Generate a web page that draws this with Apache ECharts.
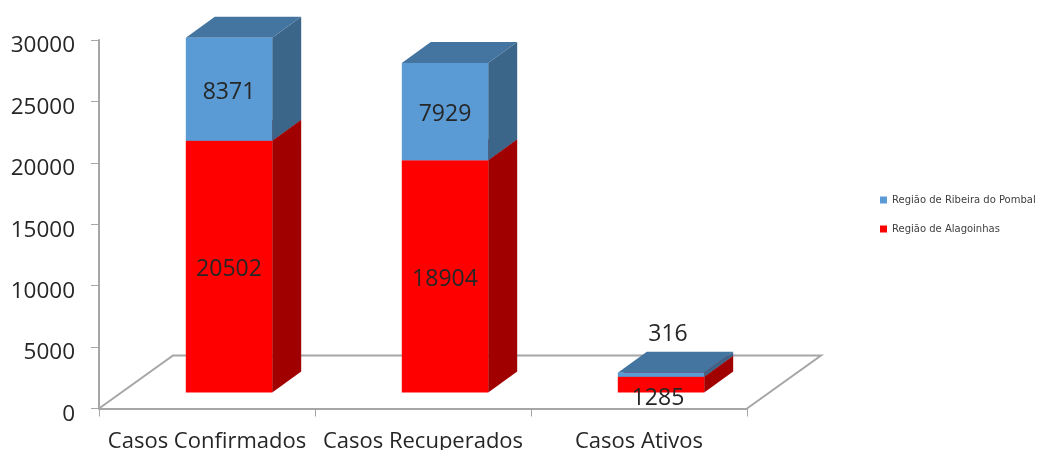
<!DOCTYPE html>
<html>
<head>
<meta charset="utf-8">
<style>
    html, body { margin: 0; padding: 0; background: #fff; }
    #chart { width: 1037px; height: 450px; }
</style>
</head>
<body>
<div id="chart"></div>
<script src="https://cdn.jsdelivr.net/npm/echarts@6/dist/echarts.min.js"></script>
<script>
const categories = ['Casos Confirmados', 'Casos Recuperados', 'Casos Ativos'];
const alagoinhas = [20502, 18904, 1285];
const ribeira = [8371, 7929, 316];
const yTicks = [0, 5000, 10000, 15000, 20000, 25000, 30000];

const fontFamily = '"Open Sans", sans-serif';
const axisColor = '#a6a6a6';
const textColor = '#262626';

// 3d look of the old spreadsheet chart: bars stand back on the floor
const floorDepth = [74, 53];
const barShift = [22, 16];
const barDepth = [29, 21];
const barShare = 0.4;

function floorItem(params) {
    const c = params.coordSys;
    const x0 = c.x;
    const x1 = c.x + c.width;
    const y = c.y + c.height;
    return {
        type: 'polyline',
        shape: {
            points: [
                [x0, y],
                [x0 + floorDepth[0], y - floorDepth[1]],
                [x1 + floorDepth[0], y - floorDepth[1]],
                [x1, y],
            ],
        },
        style: { stroke: axisColor, lineWidth: 2, fill: 'none' },
    };
}

function barItem(colors, labelFor) {
    return function (params, api) {
        const idx = api.value(0);
        const low = api.coord([idx, api.value(1)]);
        const high = api.coord([idx, api.value(2)]);
        const w = api.size([1, 0])[0] * barShare;
        const left = low[0] - w / 2 + barShift[0];
        const right = left + w;
        const bottom = low[1] - barShift[1];
        const top = high[1] - barShift[1];
        const [dx, dy] = barDepth;
        const label = labelFor(api.value(2) - api.value(1), left + w / 2, top, bottom);
        return {
            type: 'group',
            children: [
                {
                    type: 'polygon',
                    shape: { points: [[right, top], [right + dx, top - dy], [right + dx, bottom - dy], [right, bottom]] },
                    style: { fill: colors.side },
                },
                {
                    type: 'polygon',
                    shape: { points: [[left, top], [left + dx, top - dy], [right + dx, top - dy], [right, top]] },
                    style: { fill: colors.top },
                },
                {
                    type: 'rect',
                    shape: { x: left, y: top, width: w, height: bottom - top },
                    style: { fill: colors.front },
                },
                {
                    type: 'text',
                    z2: 10,
                    style: {
                        text: label.text,
                        x: label.x,
                        y: label.y,
                        fill: textColor,
                        font: '23px ' + fontFamily,
                        align: 'center',
                        verticalAlign: 'middle',
                    },
                },
            ],
        };
    };
}

// the thin last bar has its labels outside: red under it, blue over it
function redLabel(v, cx, top, bottom) {
    if (bottom - top < 30) return { text: String(v), x: cx - 3, y: bottom + 6 };
    return { text: String(v), x: cx, y: (top + bottom) / 2 + 3 };
}
function blueLabel(v, cx, top, bottom) {
    if (bottom - top < 30) return { text: String(v), x: cx + 7, y: top - 38 };
    return { text: String(v), x: cx, y: (top + bottom) / 2 + 3 };
}

const redData = categories.map((c, i) => [i, 0, alagoinhas[i]]);
const blueData = categories.map((c, i) => [i, alagoinhas[i], alagoinhas[i] + ribeira[i]]);

const chart = echarts.init(document.getElementById('chart'));
chart.setOption({
    animation: false,
    backgroundColor: '#fff',
    grid: { left: 99, right: 290, top: 40, bottom: 41.5, outerBoundsMode: 'none' },
    legend: {
        orient: 'vertical',
        left: 875,
        top: 190,
        itemWidth: 7,
        itemHeight: 7,
        itemGap: 19,
        icon: 'rect',
        data: ['Região de Ribeira do Pombal', 'Região de Alagoinhas'],
        textStyle: { color: '#404040', fontSize: 10, fontFamily: 'DejaVu Sans' },
    },
    xAxis: {
        type: 'category',
        data: categories,
        axisLine: { lineStyle: { color: axisColor, width: 2 } },
        axisTick: { show: true, alignWithLabel: false, length: 8, lineStyle: { color: axisColor, width: 1 } },
        axisLabel: { color: textColor, fontSize: 22, fontFamily, margin: 22, interval: 0 },
    },
    yAxis: {
        type: 'value',
        min: yTicks[0],
        max: yTicks[yTicks.length - 1],
        interval: yTicks[1] - yTicks[0],
        splitLine: { show: false },
        axisLine: { show: true, lineStyle: { color: axisColor, width: 2 } },
        axisTick: { show: true, length: 8, lineStyle: { color: axisColor, width: 1 } },
        axisLabel: {
            color: textColor,
            fontSize: 22.5,
            fontFamily,
            margin: 24,
            verticalAlign: 'top',
            lineHeight: 12,
            formatter: (v) => String(v),
        },
    },
    series: [
        {
            type: 'custom',
            name: 'floor',
            renderItem: floorItem,
            data: [[0, 0]],
            silent: true,
            z: 1,
        },
        {
            type: 'custom',
            name: 'Região de Alagoinhas',
            itemStyle: { color: '#ff0000' },
            renderItem: barItem({ front: '#ff0000', side: '#a00000', top: '#a00000' }, redLabel),
            encode: { x: 0, y: [1, 2] },
            data: redData,
            z: 2,
        },
        {
            type: 'custom',
            name: 'Região de Ribeira do Pombal',
            itemStyle: { color: '#5b9bd5' },
            renderItem: barItem({ front: '#5b9bd5', side: '#3b6589', top: '#4474a0' }, blueLabel),
            encode: { x: 0, y: [1, 2] },
            data: blueData,
            z: 3,
        },
    ],
});
</script>
</body>
</html>
